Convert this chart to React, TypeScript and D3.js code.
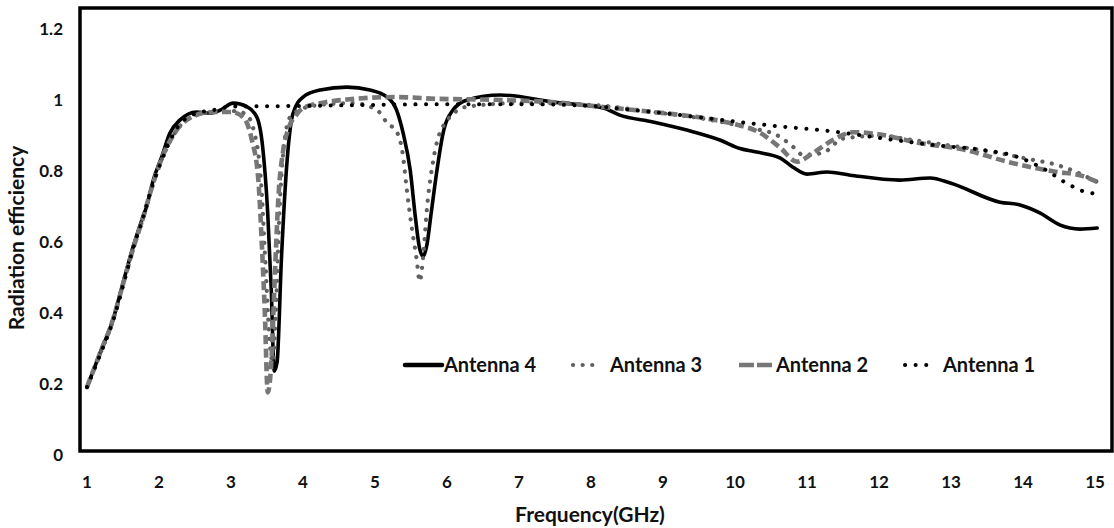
import React from "react";
import * as d3 from "d3";

const xTicks = [1, 2, 3, 4, 5, 6, 7, 8, 9, 10, 11, 12, 13, 14, 15];
const yTicks = [0, 0.2, 0.4, 0.6, 0.8, 1, 1.2];

const antenna4: [number, number][] = [
  [1.0, 0.18], [1.18, 0.276], [1.36, 0.369], [1.5, 0.473], [1.64, 0.575], [1.76, 0.65], [1.83, 0.69],
  [1.92, 0.763], [2.04, 0.83], [2.15, 0.895], [2.29, 0.932], [2.52, 0.955], [2.71, 0.952], [2.85, 0.96],
  [3.03, 0.98], [3.22, 0.97], [3.36, 0.94], [3.44, 0.856], [3.51, 0.67], [3.56, 0.45], [3.6, 0.225],
  [3.64, 0.25], [3.7, 0.54], [3.78, 0.82], [3.86, 0.95], [4.0, 0.997], [4.24, 1.017], [4.61, 1.025],
  [4.93, 1.017], [5.17, 0.997], [5.3, 0.96], [5.39, 0.896], [5.49, 0.79], [5.56, 0.66], [5.62, 0.57],
  [5.67, 0.548], [5.72, 0.58], [5.78, 0.67], [5.86, 0.79], [5.94, 0.89], [6.08, 0.96], [6.28, 0.989],
  [6.74, 1.003], [7.47, 0.983], [8.17, 0.966], [8.4, 0.946], [8.86, 0.927], [9.33, 0.904], [9.79, 0.876],
  [10.07, 0.852], [10.3, 0.842], [10.63, 0.825], [10.8, 0.8], [11.0, 0.78], [11.28, 0.786], [11.6, 0.777],
  [12.29, 0.763], [12.71, 0.769], [12.99, 0.755], [13.68, 0.701], [13.96, 0.693], [14.24, 0.67],
  [14.51, 0.637], [14.79, 0.625], [15.03, 0.628],
];

const antenna3: [number, number][] = [
  [1.0, 0.18], [1.18, 0.272], [1.36, 0.367], [1.5, 0.468], [1.64, 0.57], [1.76, 0.645], [1.92, 0.755],
  [2.04, 0.822], [2.25, 0.905], [2.5, 0.945], [2.75, 0.955], [3.0, 0.958], [3.2, 0.95], [3.32, 0.9],
  [3.42, 0.75], [3.48, 0.52], [3.54, 0.3], [3.58, 0.25], [3.62, 0.38], [3.67, 0.66], [3.73, 0.85],
  [3.82, 0.94], [4.0, 0.965], [4.24, 0.975], [4.69, 0.98], [5.03, 0.96], [5.17, 0.924], [5.31, 0.896],
  [5.39, 0.83], [5.44, 0.74], [5.51, 0.63], [5.58, 0.538], [5.62, 0.478], [5.67, 0.55], [5.72, 0.68],
  [5.81, 0.82], [5.94, 0.913], [6.28, 0.97], [7.0, 0.98], [8.0, 0.975], [8.86, 0.955], [9.56, 0.936],
  [10.2, 0.91], [10.58, 0.89], [10.83, 0.853], [10.94, 0.834], [11.22, 0.84], [11.5, 0.88], [12.0, 0.888],
  [12.5, 0.875], [13.0, 0.86], [13.5, 0.845], [14.14, 0.82], [14.47, 0.806], [14.6, 0.797], [15.03, 0.758],
];

const antenna2: [number, number][] = [
  [1.0, 0.18], [1.18, 0.275], [1.36, 0.37], [1.5, 0.47], [1.64, 0.57], [1.76, 0.645], [1.92, 0.755],
  [2.04, 0.825], [2.25, 0.905], [2.5, 0.945], [2.75, 0.955], [3.0, 0.955], [3.17, 0.94], [3.29, 0.876],
  [3.38, 0.763], [3.43, 0.575], [3.47, 0.39], [3.51, 0.165], [3.56, 0.25], [3.61, 0.5], [3.66, 0.72],
  [3.72, 0.84], [3.8, 0.91], [3.9, 0.945], [4.0, 0.966], [4.3, 0.982], [4.61, 0.99], [5.3, 0.997],
  [5.86, 0.992], [6.5, 0.99], [7.5, 0.982], [8.17, 0.969], [8.86, 0.955], [9.56, 0.938], [9.97, 0.922],
  [10.35, 0.896], [10.63, 0.854], [10.86, 0.815], [11.08, 0.839], [11.36, 0.876], [11.64, 0.898],
  [12.06, 0.89], [12.5, 0.87], [13.2, 0.848], [13.8, 0.814], [14.47, 0.786], [14.79, 0.777], [15.03, 0.758],
];

const antenna1: [number, number][] = [
  [1.0, 0.18], [1.18, 0.27], [1.36, 0.365], [1.5, 0.465], [1.64, 0.57], [1.76, 0.645], [1.92, 0.755],
  [2.04, 0.82], [2.25, 0.91], [2.5, 0.95], [2.75, 0.96], [3.0, 0.97], [4.0, 0.972], [5.0, 0.975],
  [6.0, 0.977], [7.0, 0.977], [8.0, 0.972], [8.5, 0.962], [9.0, 0.952], [9.51, 0.94], [10.44, 0.918],
  [11.36, 0.9], [12.29, 0.874], [12.75, 0.862], [13.44, 0.848], [13.9, 0.83], [14.33, 0.79], [14.6, 0.755],
  [14.9, 0.728], [15.0, 0.725],
];

const seriesNames = ["Antenna 4", "Antenna 3", "Antenna 2", "Antenna 1"];

const styles = [
  { stroke: "#000", width: 3.6, dash: "", cap: "round" },
  { stroke: "#606060", width: 4.2, dash: "0.1,9.5", cap: "round" },
  { stroke: "#777", width: 4.6, dash: "9,4.5", cap: "butt" },
  { stroke: "#000", width: 4.0, dash: "0.1,10.5", cap: "round" },
];

const W = 1114;
const H = 528;
const frame = { left: 80, top: 8, right: 1112, bottom: 451 };

export default function App() {
  const x = d3.scaleLinear().domain([1, 15]).range([87, 1095]);
  const y = d3.scaleLinear().domain([0, 1.2]).range([451, 25]);
  const line = d3
    .line<[number, number]>()
    .x((d) => x(d[0]))
    .y((d) => y(d[1]))
    .curve(d3.curveMonotoneX);
  const data = [antenna4, antenna3, antenna2, antenna1];
  const font = "Lato, 'Open Sans', sans-serif";

  const legendItems = [
    { sx: 405, ex: 442, tx: 444 },
    { sx: 573, ex: 597, tx: 610 },
    { sx: 739, ex: 773, tx: 776 },
    { sx: 905, ex: 929, tx: 943 },
  ];

  return (
    <svg
      width={W}
      height={H}
      style={{ position: "absolute", left: 0, top: 0, background: "#fff" }}
      fontFamily={font}
    >
      <rect x={0} y={0} width={W} height={H} fill="#fff" />
      {data.map((d, i) => (
        <path
          key={i}
          d={line(d) || ""}
          fill="none"
          stroke={styles[i].stroke}
          strokeWidth={styles[i].width}
          strokeDasharray={styles[i].dash || undefined}
          strokeLinecap={styles[i].cap as any}
          strokeLinejoin="round"
        />
      ))}
      <rect
        x={frame.left}
        y={frame.top}
        width={frame.right - frame.left}
        height={frame.bottom - frame.top}
        fill="none"
        stroke="#000"
        strokeWidth={3.5}
      />
      {xTicks.map((t) => (
        <text key={t} x={x(t)} y={488} textAnchor="middle" fontSize={17} fontWeight={700} fill="#111">
          {t}
        </text>
      ))}
      {yTicks.map((t) => (
        <text key={t} x={63} y={y(t) + 10} textAnchor="end" fontSize={17} fontWeight={700} fill="#111">
          {t}
        </text>
      ))}
      <text x={590} y={522} textAnchor="middle" fontSize={21} fontWeight={700} fill="#111">
        Frequency(GHz)
      </text>
      <text
        transform={`translate(24,238) rotate(-90)`}
        textAnchor="middle"
        fontSize={21}
        fontWeight={700}
        fill="#111"
      >
        Radiation efficiency
      </text>
      {legendItems.map((l, i) => (
        <g key={i}>
          <line
            x1={l.sx}
            x2={l.ex}
            y1={365}
            y2={365}
            stroke={styles[i].stroke}
            strokeWidth={i === 0 ? 4.5 : styles[i].width}
            strokeDasharray={i === 2 ? "15,3" : styles[i].dash || undefined}
            strokeLinecap={styles[i].cap as any}
          />
          <text x={l.tx} y={372} fontSize={20} fontWeight={700} fill="#111">
            {seriesNames[i]}
          </text>
        </g>
      ))}
    </svg>
  );
}
